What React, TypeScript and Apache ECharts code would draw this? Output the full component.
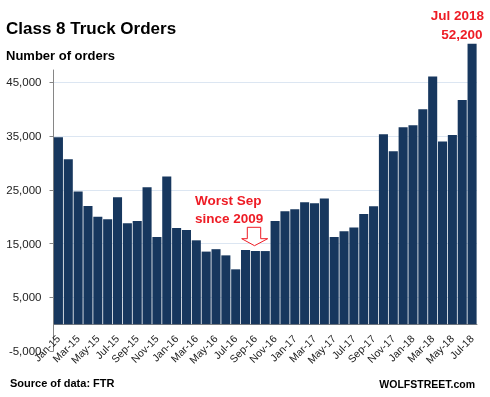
import React, { useEffect, useRef } from "react";
import * as echarts from "echarts";

const categories = [
  "Jan-15","Feb-15","Mar-15","Apr-15","May-15","Jun-15","Jul-15","Aug-15","Sep-15","Oct-15","Nov-15","Dec-15",
  "Jan-16","Feb-16","Mar-16","Apr-16","May-16","Jun-16","Jul-16","Aug-16","Sep-16","Oct-16","Nov-16","Dec-16",
  "Jan-17","Feb-17","Mar-17","Apr-17","May-17","Jun-17","Jul-17","Aug-17","Sep-17","Oct-17","Nov-17","Dec-17",
  "Jan-18","Feb-18","Mar-18","Apr-18","May-18","Jun-18","Jul-18",
];

const orders = [
  34800, 30700, 24700, 22000, 20000, 19500, 23600, 18800, 19200, 25500, 16200, 27500,
  17900, 17500, 15600, 13500, 13950, 12800, 10200, 13800, 13600, 13600, 19200, 21000,
  21400, 22700, 22500, 23400, 16200, 17300, 18000, 20500, 21950, 35350, 32200, 36650,
  37000, 40000, 46100, 34000, 35200, 41700, 52200,
];

const yTicks = [-5000, 5000, 15000, 25000, 35000, 45000];
const yMin = -5000;
const yMax = 47300;

const FONT = "Liberation Sans";
const RED = "#ee1c25";

export default function App() {
  const ref = useRef<HTMLDivElement>(null);
  useEffect(() => {
    if (!ref.current) return;
    const chart = echarts.init(ref.current, null, { renderer: "svg" });
    const fmt = (v: number) => v.toLocaleString("en-US");
    chart.setOption({
      animation: false,
      textStyle: { fontFamily: FONT },
      grid: { left: 53.5, right: 13, top: 70, bottom: 46 },
      xAxis: {
        type: "category",
        data: categories,
        axisLine: { onZero: true, lineStyle: { color: "#868686", width: 1 } },
        axisTick: { interval: 1, length: 4, alignWithLabel: false, lineStyle: { color: "#868686" } },
        axisLabel: { interval: 1, rotate: 45, fontSize: 10.5, color: "#222", margin: -14, fontFamily: FONT },
        splitLine: { show: false },
      },
      yAxis: {
        type: "value",
        min: yMin,
        max: yMax,
        interval: 10000,
        axisLine: { show: true, lineStyle: { color: "#868686", width: 1 } },
        axisTick: { show: true, length: 4, lineStyle: { color: "#868686" }, customValues: yTicks },
        axisLabel: {
          fontSize: 11.5,
          color: "#222",
          margin: 12,
          fontFamily: FONT,
          customValues: yTicks,
          formatter: (v: number) => fmt(v),
        },
        splitLine: { show: true, showMinLine: false, lineStyle: { color: "#dce6f2", width: 1 } },
      },
      series: [
        {
          type: "bar",
          data: orders,
          clip: false,
          barCategoryGap: "8%",
          itemStyle: { color: "#17375e" },
        },
      ],
      graphic: [
        { type: "text", left: 6, top: 20, style: { text: "Class 8 Truck Orders", font: `bold 17px "${FONT}"`, fill: "#000" } },
        { type: "text", left: 6, top: 49, style: { text: "Number of orders", font: `bold 13px "${FONT}"`, fill: "#000" } },
        { type: "text", x: 484, y: 15, style: { text: "Jul 2018", font: `bold 13.5px "${FONT}"`, fill: RED, align: "right", verticalAlign: "middle" } },
        { type: "text", x: 482.5, y: 34, style: { text: "52,200", font: `bold 13.5px "${FONT}"`, fill: RED, align: "right", verticalAlign: "middle" } },
        { type: "text", x: 195, y: 200.5, style: { text: "Worst Sep", font: `bold 13.5px "${FONT}"`, fill: RED, align: "left", verticalAlign: "middle" } },
        { type: "text", x: 195, y: 218.5, style: { text: "since 2009", font: `bold 13.5px "${FONT}"`, fill: RED, align: "left", verticalAlign: "middle" } },
        {
          type: "polygon",
          shape: {
            points: [
              [247.3, 227.3], [260.7, 227.3], [260.7, 238.7], [267.7, 238.7],
              [254.5, 245.7], [241.7, 238.7], [247.3, 238.7],
            ],
          },
          style: { fill: "#fff", stroke: RED, lineWidth: 1 },
          z: 100,
        },
        { type: "text", x: 10, y: 383, style: { text: "Source of data: FTR", font: `bold 11px "${FONT}"`, fill: "#000", verticalAlign: "middle" } },
        { type: "text", x: 475, y: 383.5, style: { text: "WOLFSTREET.com", font: `bold 10.5px "${FONT}"`, fill: "#000", align: "right", verticalAlign: "middle" } },
      ],
    });
    return () => chart.dispose();
  }, []);
  return <div ref={ref} style={{ position: "fixed", left: 0, top: 0, width: 490, height: 397 }} />;
}
